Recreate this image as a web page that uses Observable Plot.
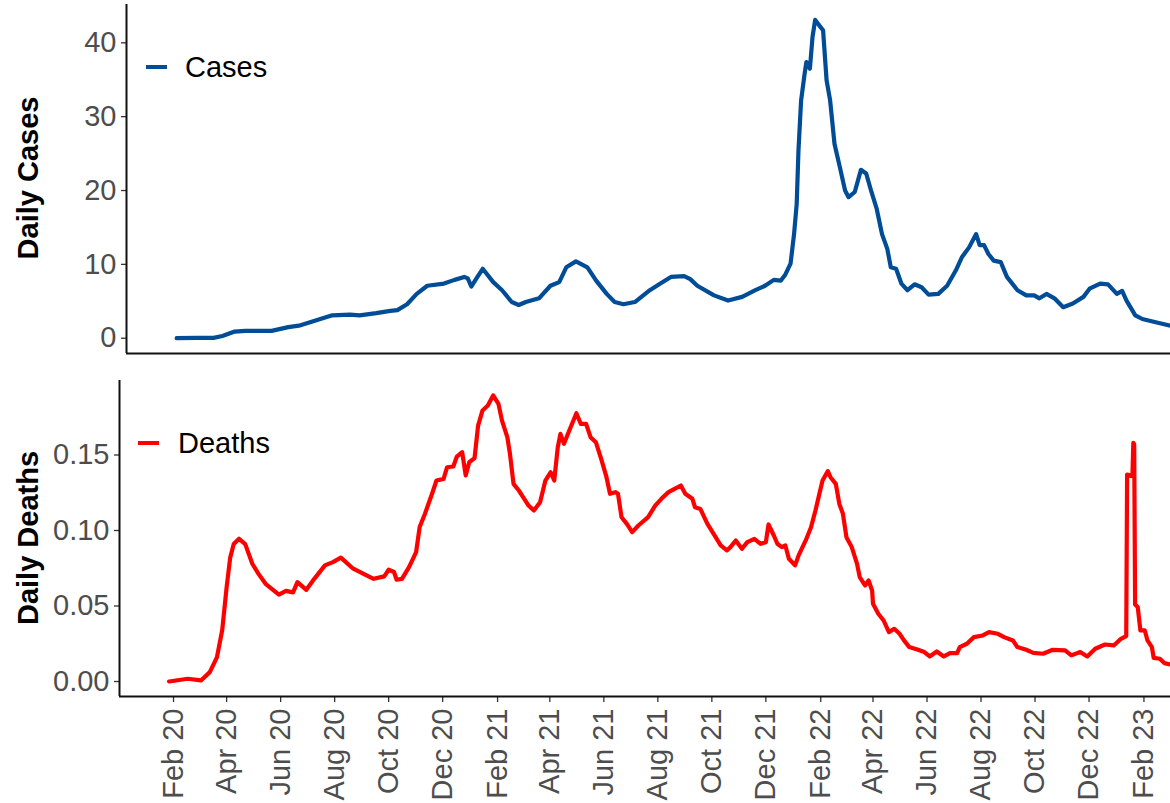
<!DOCTYPE html>
<html><head><meta charset="utf-8">
<script src="https://cdn.jsdelivr.net/npm/d3@7"></script>
<script src="https://cdn.jsdelivr.net/npm/@observablehq/plot@0.6"></script>
<style>
body{margin:0;background:#fff;font-family:"Liberation Sans",Arial,sans-serif;}
#wrap{position:relative;width:1170px;height:803px;overflow:hidden;background:#fff;}
.panel{position:absolute;left:0;}
.ytitle{position:absolute;font-weight:bold;font-size:29px;line-height:29px;color:#000;white-space:nowrap;transform:translate(-50%,-50%) rotate(-90deg);}
.lgtext{position:absolute;font-size:29px;line-height:29px;color:#000;white-space:nowrap;}
.sw{position:absolute;width:21px;height:4px;}
</style></head>
<body>
<div id="wrap"></div>
<script>
// ---- data ----
const caseDates = ["2020-01-28","2020-02-20","2020-03-10","2020-03-20","2020-04-03","2020-04-15","2020-05-15","2020-06-03","2020-06-15","2020-07-04","2020-07-23","2020-08-12","2020-08-23","2020-09-11","2020-09-27","2020-10-05","2020-10-16","2020-10-27","2020-11-08","2020-11-27","2020-12-09","2020-12-20","2020-12-24","2020-12-28","2021-01-04","2021-01-10","2021-01-22","2021-02-01","2021-02-12","2021-02-20","2021-02-28","2021-03-15","2021-03-28","2021-04-07","2021-04-15","2021-04-26","2021-05-09","2021-05-19","2021-05-31","2021-06-09","2021-06-19","2021-07-02","2021-07-19","2021-07-31","2021-08-12","2021-08-27","2021-09-03","2021-09-11","2021-09-30","2021-10-16","2021-11-01","2021-11-16","2021-11-27","2021-12-07","2021-12-15","2021-12-20","2021-12-26","2021-12-30","2022-01-02","2022-01-04","2022-01-07","2022-01-11","2022-01-13","2022-01-17","2022-01-20","2022-01-23","2022-01-28","2022-02-01","2022-02-05","2022-02-09","2022-02-14","2022-02-20","2022-02-26","2022-03-02","2022-03-09","2022-03-16","2022-03-22","2022-03-28","2022-04-03","2022-04-09","2022-04-15","2022-04-19","2022-04-25","2022-05-01","2022-05-08","2022-05-16","2022-05-24","2022-06-01","2022-06-12","2022-06-22","2022-07-02","2022-07-09","2022-07-17","2022-07-25","2022-07-29","2022-08-03","2022-08-08","2022-08-14","2022-08-22","2022-08-29","2022-09-10","2022-09-20","2022-09-29","2022-10-05","2022-10-13","2022-10-22","2022-11-01","2022-11-12","2022-11-24","2022-12-01","2022-12-13","2022-12-22","2023-01-01","2023-01-07","2023-01-12","2023-01-22","2023-01-30","2023-02-13","2023-03-03"];
const caseValues = [0,0.05,0.05,0.3,0.9,1.0,1.0,1.5,1.7,2.4,3.1,3.2,3.1,3.4,3.7,3.8,4.6,6.0,7.1,7.4,7.9,8.3,8.1,7.0,8.3,9.4,7.6,6.5,4.9,4.5,4.9,5.4,7.1,7.6,9.6,10.4,9.6,7.8,6.0,4.9,4.6,4.9,6.5,7.4,8.3,8.4,8.0,7.1,5.8,5.1,5.6,6.5,7.1,7.9,7.8,8.6,10.1,14.1,18.2,25.4,32.2,35.8,37.4,36.5,40.8,43.1,42.3,41.7,34.9,32.2,26.3,23.2,20.0,19.1,19.8,22.8,22.3,19.8,17.5,14.1,12.1,9.6,9.4,7.4,6.5,7.3,6.9,5.9,6.0,7.1,9.2,11.0,12.3,14.1,12.6,12.6,11.4,10.5,10.3,8.3,6.5,5.8,5.8,5.4,6.0,5.4,4.2,4.7,5.6,6.7,7.4,7.3,6.0,6.4,5.1,3.1,2.6,2.2,1.7];

const deathDates = ["2020-01-27","2020-02-17","2020-03-03","2020-03-13","2020-03-21","2020-03-27","2020-04-01","2020-04-05","2020-04-09","2020-04-15","2020-04-22","2020-04-30","2020-05-07","2020-05-15","2020-05-30","2020-06-07","2020-06-15","2020-06-20","2020-06-30","2020-07-09","2020-07-21","2020-07-30","2020-08-08","2020-08-22","2020-09-06","2020-09-14","2020-09-26","2020-10-01","2020-10-07","2020-10-10","2020-10-16","2020-10-24","2020-11-01","2020-11-05","2020-11-11","2020-11-19","2020-11-24","2020-12-02","2020-12-06","2020-12-13","2020-12-17","2020-12-23","2020-12-27","2020-12-31","2021-01-06","2021-01-10","2021-01-15","2021-01-21","2021-01-27","2021-02-02","2021-02-06","2021-02-12","2021-02-15","2021-02-19","2021-02-25","2021-03-02","2021-03-08","2021-03-14","2021-03-21","2021-03-27","2021-04-02","2021-04-06","2021-04-10","2021-04-13","2021-04-17","2021-04-23","2021-05-01","2021-05-06","2021-05-12","2021-05-17","2021-05-23","2021-05-29","2021-06-04","2021-06-08","2021-06-14","2021-06-17","2021-06-21","2021-06-27","2021-07-03","2021-07-10","2021-07-21","2021-07-29","2021-08-05","2021-08-13","2021-08-20","2021-08-27","2021-09-01","2021-09-09","2021-09-12","2021-09-18","2021-09-26","2021-10-03","2021-10-11","2021-10-18","2021-10-22","2021-10-28","2021-11-04","2021-11-10","2021-11-18","2021-11-25","2021-12-01","2021-12-04","2021-12-10","2021-12-14","2021-12-19","2021-12-23","2021-12-27","2022-01-03","2022-01-07","2022-01-15","2022-01-21","2022-01-26","2022-02-03","2022-02-09","2022-02-12","2022-02-18","2022-02-22","2022-02-26","2022-03-02","2022-03-08","2022-03-14","2022-03-17","2022-03-23","2022-03-27","2022-03-31","2022-04-01","2022-04-07","2022-04-13","2022-04-19","2022-04-25","2022-05-01","2022-05-06","2022-05-12","2022-05-21","2022-05-29","2022-06-04","2022-06-12","2022-06-20","2022-06-27","2022-07-05","2022-07-08","2022-07-16","2022-07-24","2022-08-03","2022-08-10","2022-08-20","2022-08-27","2022-09-06","2022-09-11","2022-09-21","2022-09-29","2022-10-10","2022-10-21","2022-11-04","2022-11-11","2022-11-21","2022-11-29","2022-12-08","2022-12-19","2022-12-29","2023-01-06","2023-01-12","2023-01-13","2023-01-19","2023-01-20","2023-01-21","2023-01-22","2023-01-25","2023-01-28","2023-02-02","2023-02-05","2023-02-10","2023-02-12","2023-02-19","2023-02-24","2023-03-03"];
const deathValues = [0.000,0.0018,0.0007,0.0062,0.016,0.034,0.0625,0.082,0.091,0.0945,0.091,0.078,0.0713,0.0647,0.0576,0.060,0.059,0.0658,0.0607,0.068,0.0769,0.0791,0.082,0.0747,0.0703,0.068,0.0696,0.074,0.0725,0.0674,0.068,0.0758,0.0857,0.1023,0.1111,0.1243,0.1331,0.1342,0.1419,0.1424,0.149,0.1519,0.1364,0.1452,0.148,0.1695,0.1795,0.1828,0.1895,0.1839,0.1728,0.1618,0.1507,0.1309,0.1265,0.122,0.1165,0.1132,0.1187,0.1331,0.1386,0.1331,0.1552,0.164,0.1574,0.1662,0.1777,0.1706,0.1706,0.1618,0.1585,0.1474,0.1353,0.1243,0.1254,0.1243,0.1088,0.1044,0.0989,0.1033,0.1088,0.1165,0.121,0.1254,0.1276,0.1298,0.1243,0.121,0.1154,0.1143,0.1044,0.0978,0.0901,0.0868,0.089,0.0934,0.0879,0.0923,0.0945,0.0912,0.0923,0.104,0.0967,0.0912,0.089,0.0901,0.0813,0.0769,0.0835,0.0934,0.1022,0.1132,0.1331,0.1393,0.1353,0.1309,0.1176,0.1111,0.0956,0.089,0.0779,0.0691,0.0636,0.0669,0.0603,0.0515,0.0449,0.0404,0.0327,0.0349,0.0316,0.0272,0.0228,0.0212,0.0195,0.0166,0.0199,0.0166,0.0188,0.0188,0.0228,0.025,0.0294,0.0305,0.0327,0.0316,0.0294,0.0272,0.0228,0.021,0.019,0.0184,0.021,0.0206,0.0173,0.0195,0.0166,0.0217,0.0245,0.0239,0.0283,0.0301,0.137,0.136,0.158,0.157,0.051,0.0493,0.0338,0.0338,0.0272,0.0228,0.0157,0.0151,0.0122,0.0113];

const caseTicks = [0,10,20,30,40];
const deathTicks = [0,0.05,0.10,0.15];
const xTickDates = ["2020-02-01","2020-04-01","2020-06-01","2020-08-01","2020-10-01","2020-12-01","2021-02-01","2021-04-01","2021-06-01","2021-08-01","2021-10-01","2021-12-01","2022-02-01","2022-04-01","2022-06-01","2022-08-01","2022-10-01","2022-12-01","2023-02-01"];
const seriesNames = ["Cases","Deaths"];
const seriesColors = ["#004C97","#FF0000"];
const axisTitles = ["Daily Cases","Daily Deaths"];

// ---- build ----
const caseData = caseDates.map((d,i)=>({date:new Date(d), value:caseValues[i]}));
const deathData = deathDates.map((d,i)=>({date:new Date(d), value:deathValues[i]}));
const xDomain = [new Date("2019-12-02"), new Date("2023-03-03")];
const fontFam = "'Liberation Sans', Arial, sans-serif";
const yTopDomain = [-2.07, 45.19];
const yBotDomain = [-0.00993, 0.19934];

const topPlot = Plot.plot({
  width: 1170, height: 355,
  marginLeft: 126, marginRight: 0, marginTop: 4, marginBottom: 2,
  style: {fontFamily: fontFam, fontSize: "29px", background: "white", overflow: "visible"},
  x: {type: "utc", domain: xDomain, axis: null},
  y: {domain: yTopDomain},
  marks: [
    Plot.axisY({ticks: caseTicks, tickSize: 5, tickPadding: 5, fill: "#4d4d4d", stroke: "#333", strokeWidth: 1.3, label: null, fontSize: 29}),
    Plot.ruleX([xDomain[0]], {stroke: "#111", strokeWidth: 2}),
    Plot.ruleY([yTopDomain[0]], {stroke: "#111", strokeWidth: 2}),
    Plot.line(caseData, {x: "date", y: "value", stroke: seriesColors[0], strokeWidth: 4.2})
  ]
});

const botPlot = Plot.plot({
  width: 1170, height: 448,
  marginLeft: 119, marginRight: 0, marginTop: 25, marginBottom: 107,
  style: {fontFamily: fontFam, fontSize: "29px", background: "transparent", overflow: "visible"},
  x: {type: "utc", domain: xDomain},
  y: {domain: yBotDomain},
  marks: [
    Plot.axisY({ticks: deathTicks, tickFormat: d3.format(".2f"), tickSize: 5, tickPadding: 5, fill: "#4d4d4d", stroke: "#333", strokeWidth: 1.3, label: null, fontSize: 29}),
    Plot.axisX({ticks: xTickDates.map(d=>new Date(d)), tickFormat: d3.utcFormat("%b %y"), tickRotate: -90, tickSize: 6, tickPadding: 6, fill: "#4d4d4d", stroke: "#333", strokeWidth: 1.3, label: null, fontSize: 29}),
    Plot.ruleX([xDomain[0]], {stroke: "#111", strokeWidth: 2}),
    Plot.ruleY([yBotDomain[0]], {stroke: "#111", strokeWidth: 2}),
    Plot.line(deathData, {x: "date", y: "value", stroke: seriesColors[1], strokeWidth: 4.2})
  ]
});

const wrap = document.getElementById("wrap");
topPlot.classList.add("panel"); topPlot.style.top = "0px";
botPlot.classList.add("panel"); botPlot.style.top = "355px";
wrap.appendChild(topPlot);
wrap.appendChild(botPlot);

function addDiv(cls, text, css){
  const d = document.createElement("div");
  d.className = cls; if (text) d.textContent = text;
  Object.assign(d.style, css); wrap.appendChild(d); return d;
}
addDiv("ytitle", axisTitles[0], {left: "28px", top: "178px"});
addDiv("ytitle", axisTitles[1], {left: "28px", top: "538px"});
addDiv("sw", "", {left: "146px", top: "65px", background: seriesColors[0]});
addDiv("lgtext", seriesNames[0], {left: "185px", top: "53px"});
addDiv("sw", "", {left: "138px", top: "441px", background: seriesColors[1]});
addDiv("lgtext", seriesNames[1], {left: "178px", top: "429px"});
</script>
</body></html>
